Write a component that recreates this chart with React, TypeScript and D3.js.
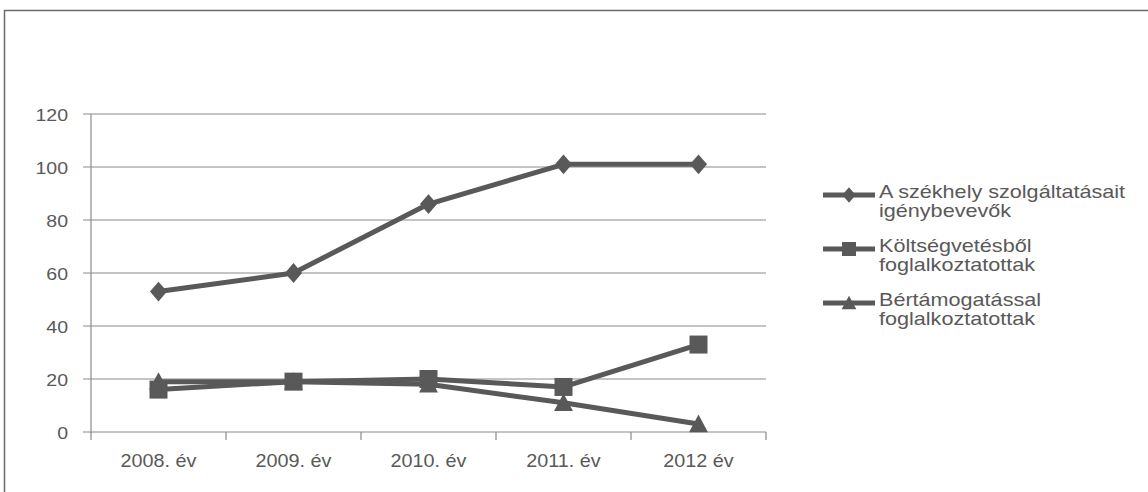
import React from "react";
import * as d3 from "d3";

const years = ["2008. év", "2009. év", "2010. év", "2011. év", "2012 év"];
const szekhely = [53, 60, 86, 101, 101];
const koltsegvetes = [16, 19, 20, 17, 33];
const bertamogatas = [19, 19, 18, 11, 3];
const yTicks = [0, 20, 40, 60, 80, 100, 120];

const seriesList = [
  { name: ["A székhely szolgáltatásait", "igénybevevők"], values: szekhely, marker: "diamond" },
  { name: ["Költségvetésből", "foglalkoztatottak"], values: koltsegvetes, marker: "square" },
  { name: ["Bértámogatással", "foglalkoztatottak"], values: bertamogatas, marker: "triangle" },
];

const W = 1148;
const H = 492;
const plot = { left: 91, right: 766, top: 114, bottom: 432 };
const ink = "#595959";
const grid = "#8a8a8a";
const font = "Liberation Sans, Arial, sans-serif";

function markerPath(kind: string, cx: number, cy: number, s: number): string {
  const h = s / 2;
  if (kind === "diamond") {
    return `M${cx},${cy - h * 1.1}L${cx + h * 0.95},${cy}L${cx},${cy + h * 1.1}L${cx - h * 0.95},${cy}Z`;
  }
  if (kind === "square") {
    return `M${cx - h},${cy - h}H${cx + h}V${cy + h}H${cx - h}Z`;
  }
  return `M${cx},${cy - h * 1.05}L${cx + h * 1.05},${cy + h * 0.9}L${cx - h * 1.05},${cy + h * 0.9}Z`;
}

export default function App() {
  const x = d3.scaleBand<string>().domain(years).range([plot.left, plot.right]);
  const y = d3.scaleLinear().domain([0, 120]).range([plot.bottom, plot.top]);
  const cx = (d: string) => (x(d) as number) + x.bandwidth() / 2;
  const line = d3
    .line<number>()
    .x((_, i) => cx(years[i]))
    .y((v) => y(v));

  const boundaries = years.map((d) => x(d) as number).concat([plot.right]);
  const legendX0 = 823;
  const legendX1 = 875;
  const legendY = [195, 249, 303];

  return (
    <svg
      width={W}
      height={H}
      style={{ position: "absolute", left: 0, top: 0, background: "#fff" }}
    >
      <rect x={0} y={0} width={W} height={H} fill="#fff" />
      {/* outer frame: top and left edges */}
      <line x1={4} y1={10.5} x2={W} y2={10.5} stroke="#6a6a6a" strokeWidth={1.5} />
      <line x1={4.5} y1={10} x2={4.5} y2={H} stroke="#6a6a6a" strokeWidth={1.5} />

      {/* horizontal gridlines with left tick stubs */}
      {yTicks.map((t) => (
        <line key={`g${t}`} x1={plot.left - 8} x2={plot.right} y1={y(t)} y2={y(t)} stroke={grid} strokeWidth={1} />
      ))}
      <line x1={plot.left} x2={plot.left} y1={plot.top} y2={plot.bottom + 1} stroke={grid} strokeWidth={1.2} />
      {boundaries.map((b, i) => (
        <line key={`xt${i}`} x1={b} x2={b} y1={plot.bottom} y2={plot.bottom + 8} stroke={grid} strokeWidth={1.2} />
      ))}

      {/* y-axis labels */}
      {yTicks.map((t) => (
        <g key={`yl${t}`} transform={`translate(68,${y(t) + 6.5})`}>
          <text transform="scale(1.15,1)" textAnchor="end" fontSize={17} fill={ink} style={{ fontFamily: font }}>
            {t}
          </text>
        </g>
      ))}
      {/* category labels */}
      {years.map((d) => (
        <g key={`xl${d}`} transform={`translate(${cx(d)},467)`}>
          <text transform="scale(1.1,1)" textAnchor="middle" fontSize={18} fill={ink} style={{ fontFamily: font }}>
            {d}
          </text>
        </g>
      ))}

      {/* series lines and markers */}
      {seriesList.map((s, si) => (
        <g key={`s${si}`}>
          <path d={line(s.values) || ""} fill="none" stroke={ink} strokeWidth={5} strokeLinejoin="round" />
          {s.values.map((v, i) => (
            <path key={`m${i}`} d={markerPath(s.marker, cx(years[i]), y(v), 18)} fill={ink} />
          ))}
        </g>
      ))}

      {/* legend */}
      {seriesList.map((s, si) => (
        <g key={`lg${si}`}>
          <line x1={legendX0} x2={legendX1} y1={legendY[si]} y2={legendY[si]} stroke={ink} strokeWidth={5} />
          <path d={markerPath(s.marker, (legendX0 + legendX1) / 2, legendY[si], 14)} fill={ink} />
          {s.name.map((ln, li) => (
            <g key={`lt${li}`} transform={`translate(${legendX1 + 4},${legendY[si] + 3 + li * 19})`}>
              <text transform="scale(1.2,1)" fontSize={18} fill={ink} style={{ fontFamily: font }}>
                {ln}
              </text>
            </g>
          ))}
        </g>
      ))}
    </svg>
  );
}
